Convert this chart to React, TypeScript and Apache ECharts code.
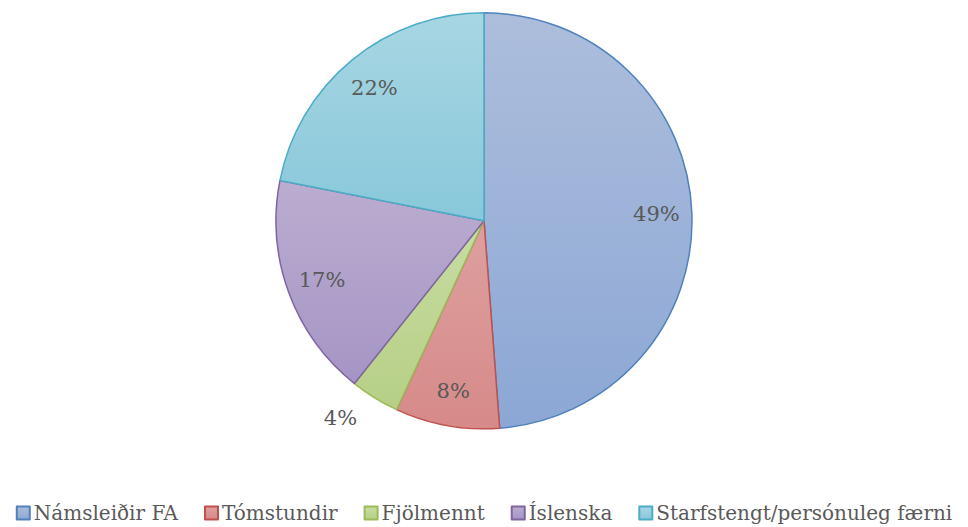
import React, { useEffect, useRef } from "react";
import * as echarts from "echarts";

const categories = [
  "Námsleiðir FA",
  "Tómstundir",
  "Fjölmennt",
  "Íslenska",
  "Starfstengt/persónuleg færni",
];
const values = [48.8, 8.1, 3.8, 17.4, 21.9];
const topColors = ["#ADBEDC", "#DDA09F", "#C8DCA4", "#BBADD0", "#A8D6E3"];
const bottomColors = ["#8CA7D5", "#D68A89", "#B6CF85", "#A595C5", "#88C8DA"];
const borderColors = ["#4F81BD", "#C0504D", "#9BBB59", "#8064A2", "#4BACC6"];
const outsideLabel = [false, false, true, false, false];

const FONT = "'DejaVu Serif', serif";

export default function App() {
  const ref = useRef<HTMLDivElement>(null);
  useEffect(() => {
    if (!ref.current) return;
    const chart = echarts.init(ref.current, null, { renderer: "svg" });
    const grad = (i: number) =>
      new echarts.graphic.LinearGradient(0, 0, 0, 1, [
        { offset: 0, color: topColors[i] },
        { offset: 1, color: bottomColors[i] },
      ]);
    const fmt = (p: any) => Math.round(p.percent) + "%";
    chart.setOption({
      animation: false,
      backgroundColor: "#ffffff",
      legend: {
        data: categories,
        bottom: -1,
        left: "center",
        itemWidth: 13,
        itemHeight: 13,
        itemGap: 26,
        icon: "rect",
        textStyle: { fontFamily: FONT, fontSize: 20, color: "#595959", padding: [0, 0, 0, -1] },
      },
      series: [
        {
          type: "pie",
          center: ["50%", "41.9%"],
          radius: [0, 208],
          startAngle: 90,
          clockwise: true,
          label: { show: false },
          labelLine: { show: false },
          emphasis: { disabled: true },
          data: categories.map((name, i) => ({
            name,
            value: values[i],
            itemStyle: { color: grad(i), borderColor: borderColors[i], borderWidth: 1.5 },
          })),
        },
        {
          type: "pie",
          center: ["50%", "41.9%"],
          radius: [131, 208],
          startAngle: 90,
          clockwise: true,
          silent: true,
          emphasis: { disabled: true },
          itemStyle: { color: "rgba(0,0,0,0)", borderWidth: 0 },
          label: {
            show: true,
            position: "inside",
            formatter: fmt,
            fontFamily: FONT,
            fontSize: 21,
            color: "#595959",
          },
          labelLine: { show: false, length: 24, length2: 0 },
          data: categories.map((name, i) => ({
            name,
            value: values[i],
            label: outsideLabel[i] ? { position: "outside" } : undefined,
          })),
        },
      ],
    });
    return () => chart.dispose();
  }, []);
  return (
    <div
      ref={ref}
      style={{ position: "fixed", left: 0, top: 0, width: 968, height: 527 }}
    />
  );
}
